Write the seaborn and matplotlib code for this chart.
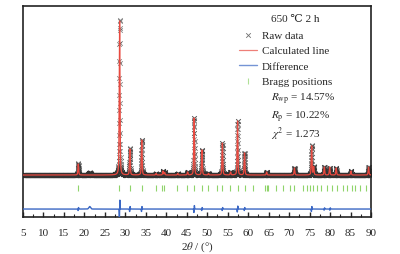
import numpy as np
import pandas as pd
import matplotlib
matplotlib.use("Agg")
import matplotlib.pyplot as plt
import seaborn as sns

# ---------------- data ----------------
# peak positions (2theta, deg) and net heights (counts above background)
peak_pos = [18.5, 28.6, 31.1, 34.0, 37.5, 39.2, 39.6, 42.8, 45.2, 46.8, 48.7,
            50.3, 53.7, 55.7, 57.4, 59.1, 64.5, 71.3, 75.5, 76.0, 78.6, 79.9,
            81.5, 85.1, 89.4]
peak_height = [1100, 15400, 2600, 3500, 150, 400, 250, 150, 300, 5700, 2500,
               150, 3200, 300, 5400, 2200, 300, 700, 2900, 800, 800, 800,
               700, 400, 800]
background = 1000

# residual features (obs - calc) at peak positions, counts
diff_pos = [18.5, 21.3, 28.6, 31.1, 34.0, 46.8, 48.7, 53.7, 57.4, 59.1, 75.5, 78.6, 80.0]
diff_amp = [150, 250, 900, 250, 250, 350, 150, 150, 300, 150, 250, 120, 120]

# Bragg reflection positions
bragg_pos = [18.5, 28.5, 31.1, 34.0, 37.5, 38.9, 39.5, 42.7, 45.0, 46.8, 48.6,
             50.3, 52.5, 53.6, 55.6, 57.4, 59.2, 61.3, 64.1, 64.5, 64.8, 66.7,
             68.6, 70.2, 71.2, 73.5, 74.3, 75.1, 75.9, 76.7, 77.7, 79.2, 80.4,
             81.6, 83.2, 84.1, 85.3, 86.1, 87.3, 88.9]

xticks = [5, 10, 15, 20, 25, 30, 35, 40, 45, 50, 55, 60, 65, 70, 75, 80, 85, 90]

# ---------------- profile model ----------------
tt = np.arange(5.0, 90.0001, 0.02)
fwhm = 0.22

def pv(x, c, w):
    g = np.exp(-4 * np.log(2) * ((x - c) / w) ** 2)
    l = 1.0 / (1.0 + 4 * ((x - c) / w) ** 2)
    return 0.6 * g + 0.4 * l

calc = np.full_like(tt, float(background))
for p, h in zip(peak_pos, peak_height):
    calc += h * pv(tt, p, fwhm)

diff = np.zeros_like(tt)
for p, a in zip(diff_pos, diff_amp):
    if p == 21.3:
        diff += a * np.exp(-((tt - p) / 0.3) ** 2)
    else:
        z = (tt - p) / 0.08
        diff += a * 2.3 * z * np.exp(-z ** 2)

obs = calc + diff
diff_offset = -2400
bragg_lo, bragg_hi = -500, 0

df = pd.DataFrame({"tt": tt, "obs": obs, "calc": calc, "diff": diff + diff_offset})
bragg_df = pd.DataFrame({"pos": bragg_pos, "y": [(bragg_lo + bragg_hi) / 2] * len(bragg_pos)})

# ---------------- plotting ----------------
sns.set_style("white")
plt.rcParams["font.family"] = ["Liberation Serif", "DejaVu Serif"]
plt.rcParams["mathtext.fontset"] = "stix"

fs = 8
fig = plt.figure(figsize=(4.0, 2.55), dpi=100)
ax = fig.add_axes([0.0575, 0.145, 0.87, 0.8275])

sns.scatterplot(data=df, x="tt", y="obs", ax=ax, marker="x", s=11, color="#333333",
                alpha=0.6, linewidth=0.6, label="Raw data", zorder=2)
sns.lineplot(data=df, x="tt", y="calc", ax=ax, color="#e8493f", lw=0.9,
             label="Calculated line", zorder=3)
sns.lineplot(data=df, x="tt", y="diff", ax=ax, color="#3a67c4", lw=1.0,
             label="Difference", zorder=3)
sns.scatterplot(data=bragg_df, x="pos", y="y", ax=ax, marker="|", s=22,
                color="#8fd46a", linewidth=0.8, label="Bragg positions", zorder=3)

ax.set_xlim(5, 90)
ax.set_ylim(-3200, 17900)
ax.set_xticks(xticks)
ax.set_xticklabels([str(t) for t in xticks])
ax.set_xticks(np.arange(7.5, 90, 5), minor=True)
ax.set_yticks([])
ax.tick_params(axis="x", which="major", direction="in", length=3.5, width=1.0,
               labelsize=fs, pad=8, bottom=True)
ax.tick_params(axis="x", which="minor", direction="in", length=2, width=0.8, bottom=True)
for s in ax.spines.values():
    s.set_visible(True)
    s.set_linewidth(1.2)
    s.set_color("#222222")
ax.set_ylabel("")
ax.set_xlabel(r"2$\theta$ / (°)", fontsize=fs, labelpad=1.5)

leg = ax.legend(loc="upper left", bbox_to_anchor=(0.62, 0.885), frameon=False,
                fontsize=fs, handlelength=1.6, handletextpad=0.5,
                labelspacing=0.5, borderaxespad=0, borderpad=0)
for h in leg.legend_handles:
    h.set_alpha(0.7)

tx = 0.712
ax.text(tx, 0.94, "650 ℃ 2 h", transform=ax.transAxes, fontsize=fs, va="center")
ax.text(tx, 0.563, r"$R_{\mathrm{wp}}$ = 14.57%", transform=ax.transAxes, fontsize=fs, va="center")
ax.text(tx, 0.476, r"$R_{\mathrm{p}}$ = 10.22%", transform=ax.transAxes, fontsize=fs, va="center")
ax.text(tx, 0.397, r"$\chi^2$ = 1.273", transform=ax.transAxes, fontsize=fs, va="center")

fig.savefig("out.png", dpi=100)
